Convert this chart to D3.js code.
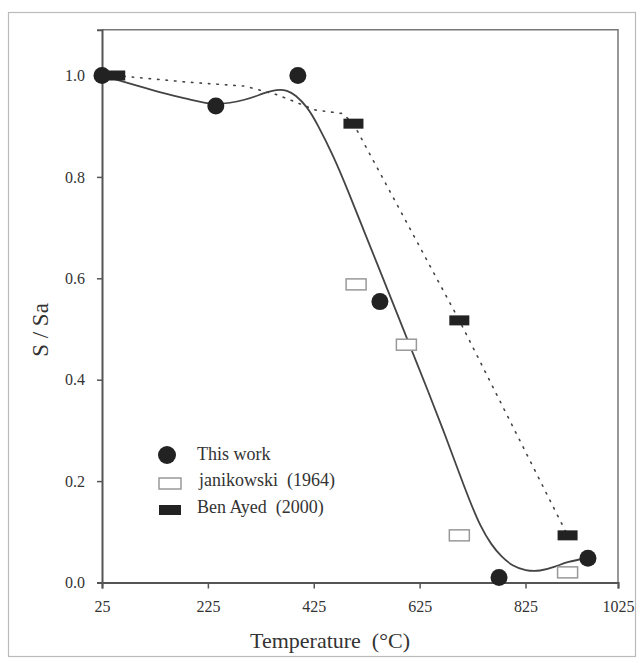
<!DOCTYPE html>
<html>
<head>
<meta charset="utf-8">
<script src="https://cdn.jsdelivr.net/npm/d3@7"></script>
<style>
  html, body { margin: 0; padding: 0; background: #fff; }
  svg { display: block; }
</style>
</head>
<body>
<svg id="chart" width="643" height="663" font-family="'Liberation Serif', 'Times New Roman', serif"></svg>
<script>
// ---- data ----
const xTicks = [25, 225, 425, 625, 825, 1025];
const yTicks = [0.0, 0.2, 0.4, 0.6, 0.8, 1.0];

const thisWorkT = [25, 240, 395, 550, 775, 960];
const thisWorkS = [1.0, 0.94, 1.0, 0.554, 0.01, 0.048];

const janikowskiT = [505, 600, 700, 916];
const janikowskiS = [0.588, 0.469, 0.093, 0.02];

const benAyedT = [50, 500, 700, 916];
const benAyedS = [1.0, 0.905, 0.517, 0.093];

// dotted trend line through Ben Ayed
const benLineT = [50, 186, 295, 356, 428, 479, 500, 700, 916];
const benLineS = [1.0, 0.987, 0.979, 0.962, 0.932, 0.925, 0.905, 0.517, 0.093];

// smoothed fit through "This work"
const fitT = [25, 129, 191, 239, 299, 329, 356, 375, 390, 413, 431, 462, 490, 520, 550, 580, 610, 640, 670, 700, 720, 740, 760, 780, 800, 825, 856, 890, 915, 959];
const fitS = [1.0, 0.968, 0.953, 0.94, 0.952, 0.965, 0.973, 0.971, 0.962, 0.938, 0.906, 0.842, 0.772, 0.693, 0.615, 0.537, 0.458, 0.38, 0.30, 0.215, 0.16, 0.11, 0.075, 0.05, 0.033, 0.023, 0.022, 0.031, 0.041, 0.048];

const legendLabels = ["This work", "janikowski\u00A0 (1964)", "Ben Ayed\u00A0 (2000)"];
const xTitle = "Temperature\u00A0 (°C)";
const yTitle = "S / Sa";

// ---- layout ----
const FONT = "'Liberation Serif', 'Times New Roman', serif";
const svg = d3.select("#chart");
const mLeft = 102, mRight = 618, mBottom = 582.5;

const x = d3.scaleLinear().domain([25, 825, 1025]).range([mLeft, 525.5, mRight]);
const y = d3.scaleLinear().domain([0, 1.09]).range([mBottom, mBottom - 1.09 * 507]);

// outer frame
svg.append("rect").attr("x", 8.5).attr("y", 12.5).attr("width", 627).attr("height", 644)
  .attr("fill", "none").attr("stroke", "#bbb").attr("stroke-width", 1.2);

// plot frame (top/right)
svg.append("path")
  .attr("d", `M${mLeft},${y(1.09)}H${mRight}V${mBottom}`)
  .attr("fill", "none").attr("stroke", "#777").attr("stroke-width", 1.5);

// axes
const xAxis = d3.axisBottom(x).tickValues(xTicks).tickSize(6).tickPadding(12).tickFormat(d3.format("d"));
const gx = svg.append("g").attr("transform", `translate(0,${mBottom})`).call(xAxis)
  .attr("font-family", FONT).attr("font-size", 16);
gx.select(".domain").attr("stroke", "#555").attr("stroke-width", 2);
gx.selectAll(".tick line").attr("stroke", "#555").attr("stroke-width", 1.5);
gx.selectAll("text").attr("fill", "#333");

const yAxis = d3.axisLeft(y).tickValues(yTicks).tickSize(5).tickPadding(12).tickFormat(d3.format(".1f"));
const gy = svg.append("g").attr("transform", `translate(${mLeft},0)`).call(yAxis)
  .attr("font-family", FONT).attr("font-size", 16);
gy.select(".domain").attr("stroke", "#555").attr("stroke-width", 2);
gy.selectAll(".tick line").attr("stroke", "#555").attr("stroke-width", 1.5);
gy.selectAll("text").attr("fill", "#333");

// axis titles
svg.append("text").attr("x", 330).attr("y", 648).attr("text-anchor", "middle")
  .attr("font-family", FONT).attr("font-size", 22).attr("fill", "#333").text(xTitle);
svg.append("text").attr("transform", "translate(48,330) rotate(-90)").attr("text-anchor", "middle")
  .attr("font-family", FONT).attr("font-size", 23).attr("fill", "#333").text(yTitle);

// ---- lines ----
const fitData = fitT.map((t, i) => [t, fitS[i]]);
const benData = benAyedT.map((t, i) => [t, benAyedS[i]]);
const benLineData = benLineT.map((t, i) => [t, benLineS[i]]);

svg.append("path").datum(fitData)
  .attr("d", d3.line().x(d => x(d[0])).y(d => y(d[1])).curve(d3.curveBasis))
  .attr("fill", "none").attr("stroke", "#444").attr("stroke-width", 1.8);

svg.append("path").datum(benLineData)
  .attr("d", d3.line().x(d => x(d[0])).y(d => y(d[1])))
  .attr("fill", "none").attr("stroke", "#444").attr("stroke-width", 1.6)
  .attr("stroke-dasharray", "1.5,7").attr("stroke-linecap", "round");

// ---- markers ----
const rw = 20, rh = 11;
svg.append("g").selectAll("rect").data(janikowskiT.map((t, i) => [t, janikowskiS[i]])).join("rect")
  .attr("x", d => x(d[0]) - rw / 2).attr("y", d => y(d[1]) - rh / 2)
  .attr("width", rw).attr("height", rh)
  .attr("fill", "#fff").attr("stroke", "#999").attr("stroke-width", 1.5);

svg.append("g").selectAll("rect").data(benData).join("rect")
  .attr("x", d => x(d[0]) - rw / 2).attr("y", d => y(d[1]) - 5)
  .attr("width", rw).attr("height", 10)
  .attr("fill", "#222");

svg.append("g").selectAll("circle").data(thisWorkT.map((t, i) => [t, thisWorkS[i]])).join("circle")
  .attr("cx", d => x(d[0])).attr("cy", d => y(d[1])).attr("r", 8.5)
  .attr("fill", "#222");

// ---- legend ----
const lg = svg.append("g");
lg.append("circle").attr("cx", 167).attr("cy", 455).attr("r", 9).attr("fill", "#222");
lg.append("rect").attr("x", 159).attr("y", 478).attr("width", 22).attr("height", 11)
  .attr("fill", "#fff").attr("stroke", "#999").attr("stroke-width", 1.5);
lg.append("rect").attr("x", 159).attr("y", 505).attr("width", 22).attr("height", 10).attr("fill", "#222");
const ly = [460, 486, 513];
const lx = [197, 199, 197];
legendLabels.forEach((s, i) => {
  lg.append("text").attr("x", lx[i]).attr("y", ly[i]).attr("font-size", 18)
    .attr("font-family", FONT).attr("fill", "#333").text(s);
});
</script>
</body>
</html>
